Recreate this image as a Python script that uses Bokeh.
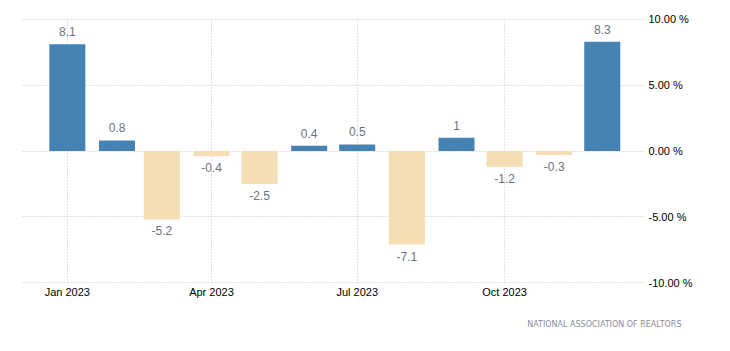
from datetime import datetime, timedelta
from bokeh.plotting import figure
from bokeh.models import (ColumnDataSource, Range1d, FixedTicker, DatetimeTickFormatter,
                          Title, CustomJSTickFormatter)
from bokeh.embed import file_html
from bokeh.resources import INLINE
from bokeh.core.properties import value

# ---- data ----
months = ["2023-01-01", "2023-02-01", "2023-03-01", "2023-04-01", "2023-05-01", "2023-06-01",
          "2023-07-01", "2023-08-01", "2023-09-01", "2023-10-01", "2023-11-01", "2023-12-01"]
changes = [8.1, 0.8, -5.2, -0.4, -2.5, 0.4, 0.5, -7.1, 1, -1.2, -0.3, 8.3]
value_labels = ["8.1", "0.8", "-5.2", "-0.4", "-2.5", "0.4", "0.5", "-7.1", "1", "-1.2", "-0.3", "8.3"]
x_tick_dates = ["2023-01-01", "2023-04-01", "2023-07-01", "2023-10-01"]
y_ticks = [-10, -5, 0, 5, 10]
source_text = "NATIONAL ASSOCIATION OF REALTORS"

POS = "#4682B4"
NEG = "#F5DEB3"

dates = [datetime.strptime(m, "%Y-%m-%d") for m in months]
pos_mask = [v >= 0 for v in changes]
src = ColumnDataSource(dict(
    x=dates,
    top=changes,
    color=[POS if p else NEG for p in pos_mask],
))
pos_src = ColumnDataSource(dict(
    x=[d for d, p in zip(dates, pos_mask) if p],
    y=[v for v, p in zip(changes, pos_mask) if p],
    t=[l for l, p in zip(value_labels, pos_mask) if p],
))
neg_src = ColumnDataSource(dict(
    x=[d for d, p in zip(dates, pos_mask) if not p],
    y=[v for v, p in zip(changes, pos_mask) if not p],
    t=[l for l, p in zip(value_labels, pos_mask) if not p],
))

x_start = datetime(2022, 12, 4)
x_end = datetime(2023, 12, 28)

p = figure(width=730, height=351, output_backend="svg", toolbar_location=None,
           x_axis_type="datetime",
           x_range=Range1d(x_start, x_end), y_range=Range1d(-10.06, 10.06),
           min_border_left=22, min_border_right=85, min_border_top=18, min_border_bottom=68,
           y_axis_location="right")
p.outline_line_color = None
p.background_fill_color = "white"
p.border_fill_color = "white"

bar_w = timedelta(days=22.5).total_seconds() * 1000
p.vbar(x="x", top="top", bottom=0, width=bar_w, color="color", source=src, line_color=None)

lab_font = value("Liberation Sans")
p.text(x="x", y="y", text="t", source=pos_src, text_align="center", text_baseline="bottom",
       y_offset=-8, text_font=lab_font, text_font_size="12px", text_color="#707080")
p.text(x="x", y="y", text="t", source=neg_src, text_align="center", text_baseline="top",
       y_offset=7, text_font=lab_font, text_font_size="12px", text_color="#707080")

# axes
xa = p.xaxis[0]
xa.ticker = FixedTicker(ticks=[datetime.strptime(d, "%Y-%m-%d").timestamp() * 1000 for d in x_tick_dates])
xa.formatter = DatetimeTickFormatter(months="%b %Y", days="%b %Y")
xa.axis_line_color = None
xa.major_tick_line_color = None
xa.minor_tick_line_color = None
xa.major_tick_out = 0
xa.major_tick_in = 0
xa.major_label_standoff = 2
xa.major_label_text_font = "Liberation Sans"
xa.major_label_text_font_size = "11px"
xa.major_label_text_color = "#000000"

ya = p.yaxis[0]
ya.ticker = FixedTicker(ticks=y_ticks)
ya.formatter = CustomJSTickFormatter(code="return tick.toFixed(2) + ' %';")
ya.axis_line_color = None
ya.major_tick_line_color = None
ya.minor_tick_line_color = None
ya.major_tick_out = 0
ya.major_tick_in = 0
ya.major_label_standoff = 3
ya.major_label_text_font = "Liberation Sans"
ya.major_label_text_font_size = "11px"
ya.major_label_text_color = "#000000"

for g in (p.xgrid[0], p.ygrid[0]):
    g.grid_line_color = "#c4c4c4"
    g.grid_line_dash = "1 2"
    g.grid_line_width = 1
p.xgrid[0].ticker = xa.ticker
p.ygrid[0].ticker = ya.ticker

p.add_layout(Title(text=source_text, align="right", offset=-36, standoff=34,
                   text_font="DejaVu Sans", text_font_size="8px", text_font_style="normal",
                   text_color="#8c8c9c"), "below")

open("out.html", "w").write(file_html(p, INLINE))
